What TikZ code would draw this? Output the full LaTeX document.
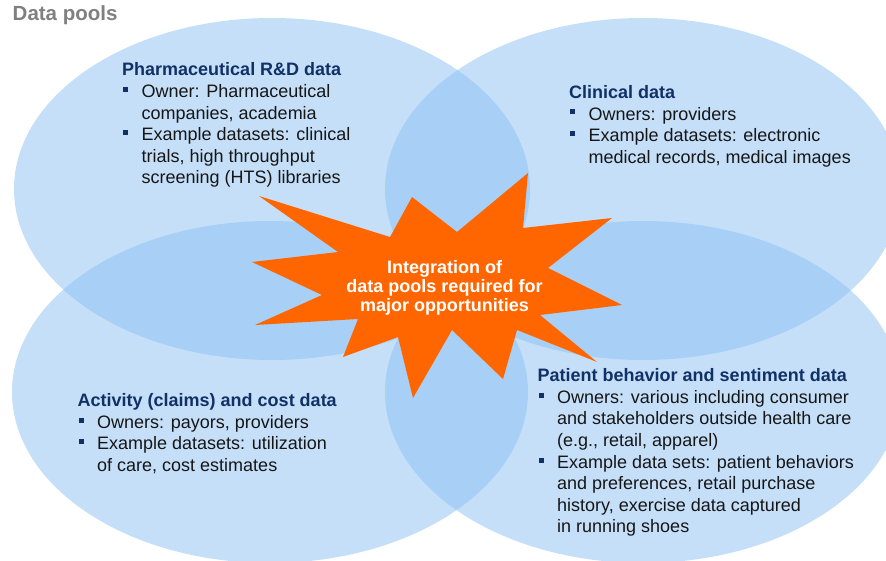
\documentclass[tikz,border=0pt]{standalone}
\usepackage{fontspec}
\setmainfont{Liberation Sans}
\usetikzlibrary{shapes.geometric}
\definecolor{poolblue}{RGB}{141,193,245}
\definecolor{navy}{RGB}{17,48,102}
\definecolor{bodytxt}{RGB}{22,22,22}
\definecolor{starorange}{RGB}{255,102,0}
\definecolor{titlegray}{RGB}{128,128,128}
\newcommand\blt{\makebox[19.5pt][l]{\hspace{1pt}{\color{navy}\raisebox{5.6pt}{\rule{5pt}{5pt}}}}}
\newcommand\cnt{\hspace*{19.5pt}}
\newcommand\hd[1]{{\bfseries\color{navy}#1}}
\begin{document}
\begin{tikzpicture}[x=1pt,y=-1pt,
  pool/.style={ellipse, fill=poolblue, fill opacity=0.5, draw=none,
    minimum width=516pt, minimum height=342pt, inner sep=0pt},
  block/.style={anchor=base west, inner sep=0pt, text=bodytxt,
    font=\fontsize{18}{21.6}\selectfont},
  startext/.style={anchor=base, inner sep=0pt, text=white,
    font=\fontsize{18}{19.3}\selectfont\bfseries}]
\useasboundingbox (0,0) rectangle (886,561);
\fill[white] (0,0) rectangle (886,561);
\begin{scope}
\clip (0,0) rectangle (886,561);
\node[pool] (rd) at (272,189) {};
\node[pool] (clin) at (643,189) {};
\node[pool] (act) at (270,392) {};
\node[pool] (pat) at (643,392) {};
\end{scope}
\node[anchor=base west, inner sep=0pt, text=titlegray,
  font=\fontsize{20.5}{24}\selectfont\bfseries] (title) at (12.5,20.7) {Data pools};
\fill[starorange] (259,196) -- (390,237) -- (412,197) -- (457,232) -- (528,173)
  -- (523,228) -- (612,218) -- (548,268) -- (622,305) -- (540,315)
  -- (597,362) -- (517,330) -- (503,379) -- (452,330) -- (413,398)
  -- (398,337) -- (343,357) -- (358,319) -- (255,325) -- (322,295)
  -- (252,262) -- (338,252) -- cycle;
\node[startext] (integ) at (444.5,273.3)
  {\begin{tabular}[t]{@{}c@{}}Integration of\\data pools required for\\major opportunities\end{tabular}};
\node[block] (rdtxt) at (122,76) {\begin{tabular}[t]{@{}l@{}}
\hd{Pharmaceutical R\&D data}\\
\blt Owner: Pharmaceutical\\
\cnt companies, academia\\
\blt Example datasets: clinical\\
\cnt trials, high throughput\\
\cnt screening (HTS) libraries
\end{tabular}};
\node[block] (clintxt) at (569,98.5) {\begin{tabular}[t]{@{}l@{}}
\hd{Clinical data}\\
\blt Owners: providers\\
\blt Example datasets: electronic\\
\cnt medical records, medical images
\end{tabular}};
\node[block] (acttxt) at (77.5,406.7) {\begin{tabular}[t]{@{}l@{}}
\hd{Activity (claims) and cost data}\\
\blt Owners: payors, providers\\
\blt Example datasets: utilization\\
\cnt of care, cost estimates
\end{tabular}};
\node[block] (pattxt) at (537.5,381.7) {\begin{tabular}[t]{@{}l@{}}
\hd{Patient behavior and sentiment data}\\
\blt Owners: various including consumer\\
\cnt and stakeholders outside health care\\
\cnt (e.g., retail, apparel)\\
\blt Example data sets: patient behaviors\\
\cnt and preferences, retail purchase\\
\cnt history, exercise data captured\\
\cnt in running shoes
\end{tabular}};
\end{tikzpicture}
\end{document}
